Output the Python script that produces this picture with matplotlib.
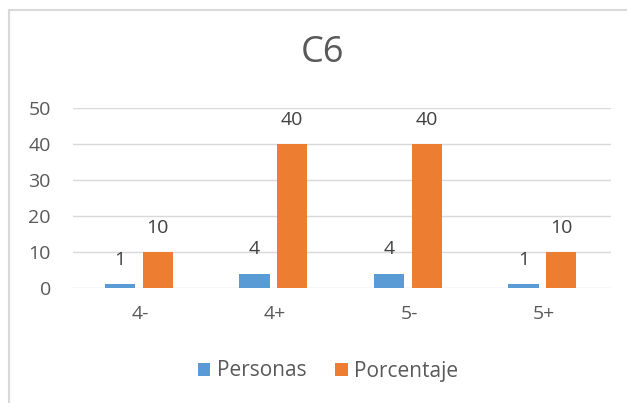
import numpy as np
import matplotlib.pyplot as plt
from matplotlib.lines import Line2D

categories = ['4-', '4+', '5-', '5+']
personas = [1, 4, 4, 1]
porcentaje = [10, 40, 40, 10]

blue = '#5b9bd5'
orange = '#ed7d31'
text_c = '#595959'

plt.rcParams['font.family'] = ['Open Sans', 'DejaVu Sans']

fig = plt.figure(figsize=(6.27, 4.03), dpi=100)
ax = fig.add_axes([73 / 627, 1 - 288 / 403, 538 / 627, 180 / 403])

x = np.arange(len(categories))
w = 0.225
b1 = ax.bar(x - 0.15, personas, w, color=blue, label='Personas', zorder=3)
b2 = ax.bar(x + 0.13, porcentaje, w, color=orange, label='Porcentaje', zorder=3)
for bars in (b1, b2):
    ax.bar_label(bars, padding=11, fontsize=14, color='#404040')

ax.set_xlim(-0.5, len(categories) - 0.5)
ax.set_ylim(0, 50)
ax.set_yticks(range(0, 51, 10))
ax.set_xticks(x)
ax.set_xticklabels(categories)
ax.grid(axis='y', color='#d9d9d9', linewidth=1, zorder=0)
for s in ax.spines.values():
    s.set_visible(False)
ax.tick_params(length=0, labelsize=14, colors=text_c)
ax.tick_params(axis='x', pad=12)
ax.tick_params(axis='y', pad=16)

fig.text(0.5 + 9 / 627, 1 - 53 / 403, 'C6', ha='center', va='center', fontsize=26, color=text_c)
fig.legend(loc='center', bbox_to_anchor=(328 / 627, 1 - 371 / 403), ncol=2, frameon=False,
           fontsize=15, labelcolor=text_c, handlelength=0.6, handleheight=0.6,
           handletextpad=0.3, columnspacing=1.4)

# chart border
fig.add_artist(Line2D([8.5 / 627, 8.5 / 627], [0, 1 - 9.5 / 403], color='#d9d9d9', lw=1.5, transform=fig.transFigure))
fig.add_artist(Line2D([8.5 / 627, 1], [1 - 9.5 / 403, 1 - 9.5 / 403], color='#d9d9d9', lw=1.5, transform=fig.transFigure))

fig.savefig('out.png', dpi=100)
